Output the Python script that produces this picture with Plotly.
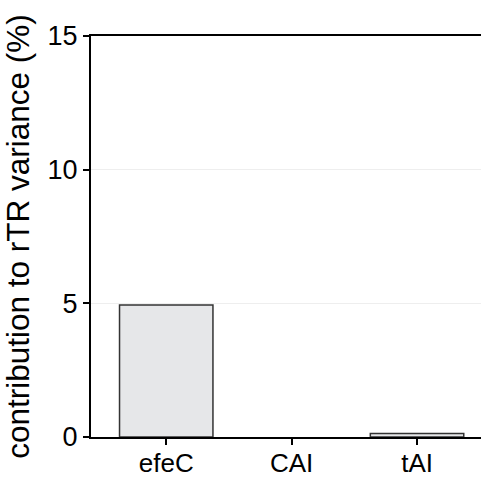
import plotly.graph_objects as go

categories = ["efeC", "CAI", "tAI"]
values = [4.94, 0.0, 0.13]
y_ticks = [0, 5, 10, 15]

outline_widths = [1.5 if v > 0 else 0 for v in values]

fig = go.Figure(go.Bar(
    x=categories, y=values, width=0.745,
    marker=dict(color="#e6e7e9", line=dict(color="#333333", width=outline_widths)),
))

fig.update_layout(
    width=482, height=477,
    margin=dict(l=91, r=1, t=36, b=40),
    plot_bgcolor="white", paper_bgcolor="white",
    font=dict(family="Liberation Sans, Arial, sans-serif", color="black", size=26),
    showlegend=False,
)
fig.update_xaxes(
    range=[-0.6, 2.51], showline=True, linecolor="black", linewidth=2,
    mirror=True, ticks="outside", ticklen=6, tickwidth=2, tickcolor="black",
    showgrid=False, tickfont=dict(size=26), layer="above traces", automargin=False,
    ticklabelstandoff=-4,
)
fig.update_yaxes(
    range=[0, 15], tickvals=y_ticks, showline=True, linecolor="black", linewidth=2,
    ticks="outside", ticklen=6, tickwidth=2, tickcolor="black",
    showgrid=True, gridcolor="#eeeeee", gridwidth=1, zeroline=False,
    title=dict(text="contribution to rTR variance (%)", font=dict(size=31.5), standoff=12),
    tickfont=dict(size=27), automargin=False,
)

fig.write_html("out.html")
